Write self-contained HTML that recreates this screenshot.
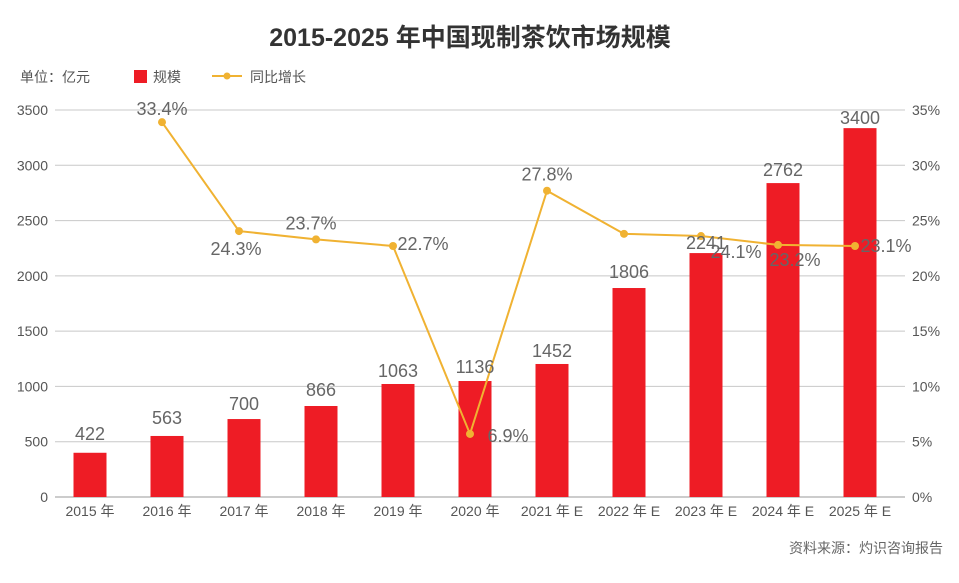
<!DOCTYPE html>
<html><head><meta charset="utf-8"><style>
body{margin:0;background:#fff;}
svg text{font-family:"Liberation Sans","Noto Sans CJK SC",sans-serif;}
</style></head><body>
<svg id="c" width="959" height="578" viewBox="0 0 959 578" xmlns="http://www.w3.org/2000/svg">
<rect width="959" height="578" fill="#fff"/>
<text x="470" y="46" text-anchor="middle" font-size="25" font-weight="bold" fill="#333">2015-2025 年中国现制茶饮市场规模</text>
<text x="20" y="82" font-size="14" fill="#555">单位：亿元</text>
<rect x="134" y="70" width="13" height="13" fill="#ee1c25"/>
<text x="153" y="82" font-size="14" fill="#555">规模</text>
<line x1="212" y1="76" x2="242" y2="76" stroke="#f0b232" stroke-width="2"/>
<circle cx="227" cy="76" r="3.5" fill="#f0b232"/>
<text x="250" y="82" font-size="14" fill="#555">同比增长</text>
<text x="943" y="553" text-anchor="end" font-size="14" fill="#666">资料来源：灼识咨询报告</text>
<g id="grid"></g><g id="bars"></g><g id="line"></g><g id="labels"></g>
</svg>
<script>
const categories=["2015 年","2016 年","2017 年","2018 年","2019 年","2020 年","2021 年 E","2022 年 E","2023 年 E","2024 年 E","2025 年 E"];
const sizeValues=[400,552,705,823,1022,1049,1203,1890,2206,2839,3336];
const sizeLabels=["422","563","700","866","1063","1136","1452","1806","2241","2762","3400"];
const growthValues=[null,33.9,24.05,23.3,22.7,5.7,27.7,23.8,23.6,22.8,22.7];
const growthLabels=[null,"33.4%","24.3%","23.7%","22.7%","6.9%","27.8%","","24.1%","23.2%","23.1%"];
const leftTicks=[0,500,1000,1500,2000,2500,3000,3500];
const rightTicks=[0,5,10,15,20,25,30,35];
const ns="http://www.w3.org/2000/svg";
const X0=55,X1=905,Y0=497,Y1=110;
const yL=v=>Y0-(v/3500)*(Y0-Y1);
const yR=v=>Y0-(v/35)*(Y0-Y1);
const xC=i=>90+i*77;
const barLabelGap=[13,12,9,10,7,8,7,10,4,7,4];
function mk(t,a,p,txt){const e=document.createElementNS(ns,t);for(const k in a)e.setAttribute(k,a[k]);if(txt!=null)e.textContent=txt;document.getElementById(p).appendChild(e);return e;}
leftTicks.forEach((v,i)=>{
 const l=mk('line',{x1:X0,x2:X1,y1:yL(v),y2:yL(v),stroke:i==0?'#999':'#c8c8c8','stroke-width':1},'grid');
 
 
 const t=mk('text',{x:48,y:yL(v)+5,'text-anchor':'end','font-size':14,fill:'#555'},'grid',String(v));
 
 
});
rightTicks.forEach(v=>{
 const t=mk('text',{x:912,y:yR(v)+5,'font-size':14,fill:'#555'},'grid',v+'%');
 
 
});
categories.forEach((c,i)=>{
 const t=mk('text',{x:xC(i),y:516,'text-anchor':'middle','font-size':14,fill:'#555'},'grid',c);
 
 
 const y=yL(sizeValues[i]);
 const b=mk('rect',{x:xC(i)-16.5,y:y,width:33,height:Y0-y,fill:'#ee1c25'},'bars');
 
 
 const l=mk('text',{x:xC(i),y:y-barLabelGap[i],'text-anchor':'middle','font-size':18,fill:'#666'},'labels',sizeLabels[i]);
 
 
});
let d='';
growthValues.forEach((v,i)=>{if(v==null)return;d+=(d?'L':'M')+(xC(i)-5)+','+yR(v);});
const p=mk('path',{d:d,fill:'none',stroke:'#f0b232','stroke-width':2},'line');


const off=[null,[0,-7],[-3,24],[-5,-10],[30,4],[38,8],[0,-10],[0,0],[35,22],[17,21],[31,6]];
growthValues.forEach((v,i)=>{if(v==null)return;
 const c=mk('circle',{cx:xC(i)-5,cy:yR(v),r:4,fill:'#f0b232'},'line');
 
 
 if(growthLabels[i]){const t=mk('text',{x:xC(i)-5+off[i][0],y:yR(v)+off[i][1],'text-anchor':'middle','font-size':18,fill:'#666'},'labels',growthLabels[i]);
 
 }
});
</script>
</body></html>
